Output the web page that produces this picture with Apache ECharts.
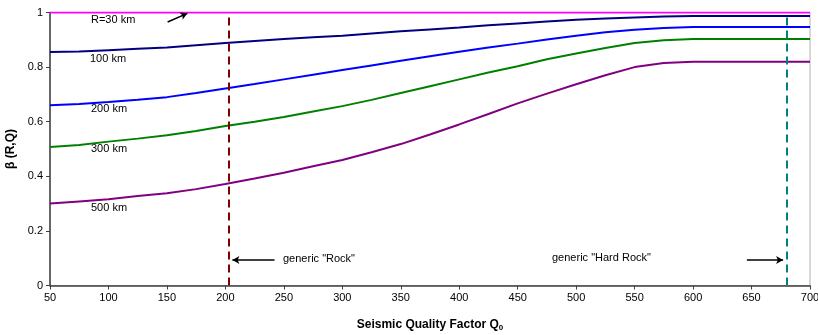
<!DOCTYPE html>
<html><head><meta charset="utf-8">
<script src="https://cdn.jsdelivr.net/npm/echarts@6/dist/echarts.min.js"></script>
<style>html,body{margin:0;padding:0;background:#fff}#c{width:818px;height:335px}</style>
</head><body><div id="c"></div>
<script>
const qValues = [50,75,100,125,150,175,200,225,250,275,300,325,350,375,400,425,450,475,500,525,550,575,600,650,700];
const r30  = [1,1,1,1,1,1,1,1,1,1,1,1,1,1,1,1,1,1,1,1,1,1,1,1,1];
const r100 = [0.855,0.857,0.862,0.867,0.872,0.880,0.888,0.896,0.903,0.909,0.915,0.923,0.931,0.938,0.945,0.953,0.960,0.967,0.973,0.978,0.982,0.985,0.987,0.987,0.987];
const r200 = [0.660,0.665,0.672,0.680,0.690,0.705,0.722,0.738,0.755,0.772,0.789,0.806,0.823,0.840,0.856,0.872,0.886,0.901,0.915,0.928,0.937,0.943,0.947,0.947,0.947];
const r300 = [0.507,0.515,0.527,0.538,0.550,0.566,0.584,0.600,0.617,0.637,0.657,0.680,0.705,0.730,0.755,0.780,0.803,0.829,0.850,0.870,0.888,0.898,0.903,0.903,0.903];
const r500 = [0.300,0.308,0.316,0.328,0.338,0.353,0.372,0.392,0.413,0.437,0.460,0.488,0.518,0.553,0.590,0.628,0.667,0.703,0.737,0.770,0.800,0.815,0.820,0.820,0.820];
const seriesNames = ['R=30 km','100 km','200 km','300 km','500 km'];
const rockQ = 203;
const hardRockQ = 680;
const xTicks = [50,100,150,200,250,300,350,400,450,500,550,600,650,700];
const yTicks = [0,0.2,0.4,0.6,0.8,1];

const colors = ['#FF00FF','#000080','#0000FF','#008000','#800080'];
const allData = [r30,r100,r200,r300,r500];
const font = 'Liberation Sans, Arial, sans-serif';

const series = allData.map((arr,i)=>({
  name: seriesNames[i], type:'line', symbol:'none', smooth:false,
  lineStyle:{color:colors[i], width:2},
  data: qValues.map((q,j)=>[q,arr[j]]),
  z: 3
}));

const arrowStyle = {color:'#000', width:1.5, type:'solid'};
series.push({
  type:'line', data:[], silent:true,
  markLine:{
    silent:true, animation:false,
    label:{show:false},
    data:[
      [{xAxis:rockQ, yAxis:0, symbol:'none', lineStyle:{color:'#800000', width:2, type:[8,5]}},
       {xAxis:rockQ, yAxis:1, symbol:'none'}],
      [{xAxis:hardRockQ, yAxis:0, symbol:'none', lineStyle:{color:'#008080', width:2, type:[8,5]}},
       {xAxis:hardRockQ, yAxis:1, symbol:'none'}],
      [{coord:[150.6,0.965], symbol:'none', lineStyle:arrowStyle},{coord:[167.5,0.997], symbol:'arrow', symbolSize:[6,7]}],
      [{coord:[242,0.093], symbol:'none', lineStyle:arrowStyle},{coord:[206,0.093], symbol:'arrow', symbolSize:[6,7]}],
      [{coord:[646,0.093], symbol:'none', lineStyle:arrowStyle},{coord:[677,0.093], symbol:'arrow', symbolSize:[6,7]}]
    ]
  }
});

function txt(x,y,t){return {type:'text', left:x, top:y-7, style:{text:t, fill:'#000', font:'11px '+font}};}

const chart = echarts.init(document.getElementById('c'));
chart.setOption({
  animation:false,
  backgroundColor:'#fff',
  grid:{left:50, right:8, top:12.5, bottom:49.5, show:true, borderColor:'#b0b0b0', borderWidth:1, backgroundColor:'transparent', containLabel:false, outerBoundsMode:'none'},
  xAxis:{type:'value', min:50, max:700, interval:50,
    name:'Seismic Quality Factor {b|Q}{s|0}', nameLocation:'middle', nameGap:32,
    nameTextStyle:{fontFamily:font, fontSize:12, fontWeight:'bold', color:'#000',
      rich:{b:{fontFamily:font, fontSize:12, fontWeight:'bold', color:'#000'}, s:{fontFamily:font, fontSize:8, fontWeight:'bold', color:'#000', verticalAlign:'bottom', padding:[6,0,0,0]}}},
    axisLine:{lineStyle:{color:'#404040', width:1.5}},
    axisTick:{show:true, length:4, lineStyle:{color:'#404040'}},
    axisLabel:{color:'#000', fontFamily:font, fontSize:11, margin:7},
    splitLine:{show:false}},
  yAxis:{type:'value', min:0, max:1, interval:0.2,
    name:'β (R,Q)', nameLocation:'middle', nameGap:26, nameRotate:90,
    nameTextStyle:{fontFamily:font, fontSize:12, fontWeight:'bold', color:'#000'},
    axisLine:{show:true, lineStyle:{color:'#404040', width:1.5}},
    axisTick:{show:true, length:4, lineStyle:{color:'#404040'}},
    axisLabel:{color:'#000', fontFamily:font, fontSize:11, margin:7,
      formatter:v=>String(Math.round(v*10)/10)},
    splitLine:{show:false}},
  graphic:[
    txt(91,21,seriesNames[0]),
    txt(90,60,seriesNames[1]),
    txt(91,110,seriesNames[2]),
    txt(91,150,seriesNames[3]),
    txt(91,209,seriesNames[4]),
    txt(283,260,'generic "Rock"'),
    txt(552,259,'generic "Hard Rock"')
  ],
  series: series
});
</script></body></html>
